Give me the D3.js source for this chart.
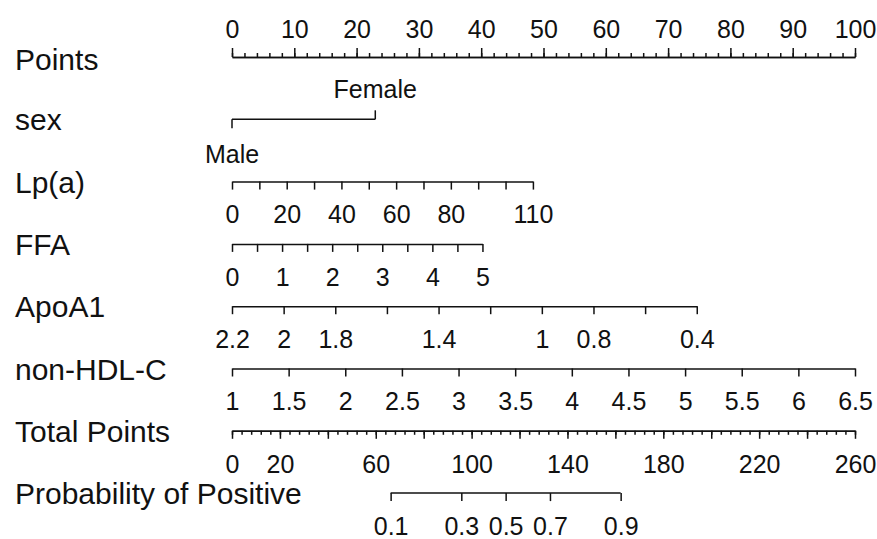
<!DOCTYPE html>
<html>
<head>
<meta charset="utf-8">
<script src="https://cdn.jsdelivr.net/npm/d3@7"></script>
<style>
  body { margin: 0; background: #fff; }
  svg text { font-family: "Liberation Sans", Arial, sans-serif; }
</style>
</head>
<body>
<svg id="chart" width="877" height="539"></svg>
<script>
// row names, top to bottom
var rowNames = ["Points", "sex", "Lp(a)", "FFA", "ApoA1", "non-HDL-C", "Total Points", "Probability of Positive"];

// points scale
var pointTicks = [0, 10, 20, 30, 40, 50, 60, 70, 80, 90, 100];

// sex
var sexLevels = ["Male", "Female"];
var sexPoints = [0, 23];

// Lp(a)
var lpaTicks = [0, 10, 20, 30, 40, 50, 60, 70, 80, 90, 100, 110];
var lpaLabels = [0, 20, 40, 60, 80, 110];
var lpaRange = [0, 110], lpaPoints = [0, 48.3];

// FFA
var ffaTicks = [0, 0.5, 1, 1.5, 2, 2.5, 3, 3.5, 4, 4.5, 5];
var ffaLabels = [0, 1, 2, 3, 4, 5];
var ffaRange = [0, 5], ffaPoints = [0, 40.2];

// ApoA1 (reversed)
var apoTicks = [2.2, 2, 1.8, 1.6, 1.4, 1.2, 1, 0.8, 0.6, 0.4];
var apoLabels = [2.2, 2, 1.8, 1.4, 1, 0.8, 0.4];
var apoRange = [2.2, 0.4], apoPoints = [0, 74.6];

// non-HDL-C
var hdlTicks = [1, 1.5, 2, 2.5, 3, 3.5, 4, 4.5, 5, 5.5, 6, 6.5];
var hdlLabels = hdlTicks;
var hdlRange = [1, 6.5], hdlPoints = [0, 100];

// total points
var totalTicks = [0, 20, 40, 60, 80, 100, 120, 140, 160, 180, 200, 220, 240, 260];
var totalLabels = [0, 20, 60, 100, 140, 180, 220, 260];

// probability, with the total points where each tick sits
var probLabels = ["0.1", "0.3", "0.5", "0.7", "0.9"];
var probTotal = [66.2, 95.7, 114.2, 132.7, 162.2];

var svg = d3.select("#chart");
var x = d3.scaleLinear().domain([0, 100]).range([232, 855]);
var tp = d3.scaleLinear().domain([0, 260]).range([232, 855]);
var rowY = function(i) { return 57 + i * 62.3; };

function styleAxis(g) {
    g.attr("font-size", 25)
     .attr("font-family", "'Liberation Sans', Arial, sans-serif");
    g.selectAll("path, line").attr("stroke", "#111").attr("stroke-width", 1.5);
    g.selectAll("text").attr("fill", "#111");
}

// row labels
svg.selectAll("text.name")
    .data(rowNames)
    .enter()
    .append("text")
    .attr("class", "name")
    .attr("x", 15)
    .attr("y", function(d, i) { return rowY(i) + (i == 0 ? 13 : 11); })
    .attr("font-size", 30)
    .attr("fill", "#111")
    .text(function(d) { return d; });

// Points
svg.append("g")
    .attr("transform", "translate(0," + rowY(0) + ")")
    .call(d3.axisTop(x).tickValues(d3.range(0, 101, 2)).tickSize(4).tickSizeOuter(0).tickFormat(""))
    .call(styleAxis);
svg.append("g")
    .attr("transform", "translate(0," + rowY(0) + ")")
    .call(d3.axisTop(x).tickValues(pointTicks).tickSize(9).tickSizeOuter(0).tickPadding(10))
    .call(styleAxis);

// sex
var sexG = svg.append("g").attr("transform", "translate(0," + rowY(1) + ")");
sexG.append("line")
    .attr("x1", x(sexPoints[0])).attr("x2", x(sexPoints[1]))
    .attr("y1", 0).attr("y2", 0);
sexG.selectAll("line.tick")
    .data(sexPoints)
    .enter()
    .append("line")
    .attr("class", "tick")
    .attr("x1", function(d) { return x(d); })
    .attr("x2", function(d) { return x(d); })
    .attr("y1", 0)
    .attr("y2", function(d, i) { return i == 0 ? 9 : -9; });
sexG.selectAll("text")
    .data(sexLevels)
    .enter()
    .append("text")
    .attr("x", function(d, i) { return x(sexPoints[i]); })
    .attr("y", function(d, i) { return i == 0 ? 44 : -21; })
    .attr("text-anchor", "middle")
    .text(function(d) { return d; });
sexG.call(styleAxis);

// continuous variables
function drawVar(row, ticks, labels, range, pts) {
    var s = d3.scaleLinear().domain(range).range(pts.map(x));
    svg.append("g")
        .attr("transform", "translate(0," + rowY(row) + ")")
        .call(d3.axisBottom(s)
            .tickValues(ticks)
            .tickSize(8)
            .tickSizeOuter(0)
            .tickPadding(16)
            .tickFormat(function(d) { return labels.indexOf(d) >= 0 ? String(d) : ""; }))
        .call(styleAxis);
}
drawVar(2, lpaTicks, lpaLabels, lpaRange, lpaPoints);
drawVar(3, ffaTicks, ffaLabels, ffaRange, ffaPoints);
drawVar(4, apoTicks, apoLabels, apoRange, apoPoints);
drawVar(5, hdlTicks, hdlLabels, hdlRange, hdlPoints);

// Total Points
svg.append("g")
    .attr("transform", "translate(0," + rowY(6) + ")")
    .call(d3.axisBottom(tp).tickValues(d3.range(0, 261, 4)).tickSize(4).tickSizeOuter(0).tickFormat(""))
    .call(styleAxis);
svg.append("g")
    .attr("transform", "translate(0," + rowY(6) + ")")
    .call(d3.axisBottom(tp)
        .tickValues(totalTicks)
        .tickSize(8)
        .tickSizeOuter(0)
        .tickPadding(16)
        .tickFormat(function(d) { return totalLabels.indexOf(d) >= 0 ? String(d) : ""; }))
    .call(styleAxis);

// Probability
var ps = d3.scaleLinear().domain([0, 260]).range([232, 855]);
var probG = svg.append("g")
    .attr("transform", "translate(0," + rowY(7) + ")")
    .call(d3.axisBottom(ps)
        .tickValues(probTotal)
        .tickSize(8)
        .tickSizeOuter(0)
        .tickPadding(16)
        .tickFormat(function(d, i) { return probLabels[i]; }))
    .call(styleAxis);
// axis domain spans the full range; trim it to the tick span
probG.select(".domain")
    .attr("d", "M" + ps(probTotal[0]) + ",0H" + ps(probTotal[probTotal.length - 1]));
</script>
</body>
</html>
